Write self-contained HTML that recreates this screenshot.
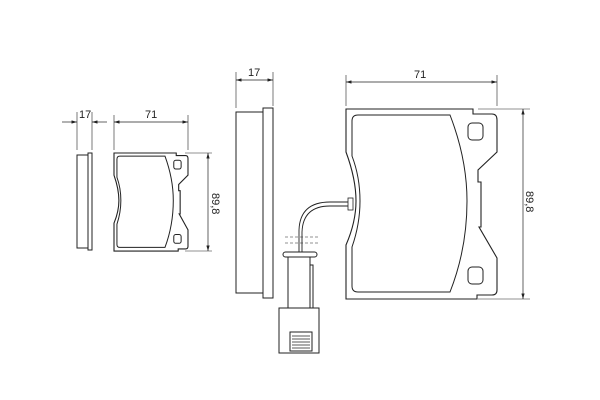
<!DOCTYPE html>
<html><head><style>html,body{margin:0;padding:0;background:#fff}svg{display:block}text{font-family:"Liberation Sans",sans-serif;font-size:11px;fill:#222}</style></head>
<body>
<svg width="600" height="400" viewBox="0 0 600 400" xmlns="http://www.w3.org/2000/svg">
<defs>
<marker id="a" viewBox="0 0 10 6" refX="10" refY="3" markerWidth="8" markerHeight="5" orient="auto-start-reverse"><path d="M0,0 L10,3 L0,6 Z" fill="#222"/></marker>
<g id="pad">
<path vector-effect="non-scaling-stroke" d="M0,0 H127 V5 H146 Q151,5 151,11 V43 L132,61 V73 H135 V118 H133 L151,149 V181 Q151,186 146,186 H131 V190 H0 V136 Q10,113 10,92 Q10,70 0,43 Z" fill="none" stroke="#222" stroke-width="1.1"/>
<path vector-effect="non-scaling-stroke" d="M12,6 H104 Q121,50 121,92 Q121,140 104,183 H12 Q6,183 6,177 V138 Q14,115 14,92 Q14,68 6,47 V12 Q6,6 12,6 Z" fill="none" stroke="#222" stroke-width="1"/>
<rect vector-effect="non-scaling-stroke" x="122" y="14" width="15" height="17" rx="4" fill="none" stroke="#222"/>
<rect vector-effect="non-scaling-stroke" x="122" y="158" width="15" height="17" rx="4" fill="none" stroke="#222"/>
</g>
</defs>
<g stroke="#222" fill="none" stroke-width="1">
<!-- small side view -->
<rect x="77" y="155" width="11" height="93"/>
<rect x="88" y="153" width="4" height="97"/>
<line x1="77" y1="112" x2="77" y2="150" stroke-width="0.6"/>
<line x1="92" y1="112" x2="92" y2="150" stroke-width="0.6"/>
<line x1="62" y1="122" x2="77" y2="122" marker-end="url(#a)" stroke-width="0.7"/>
<line x1="107" y1="122" x2="92" y2="122" marker-end="url(#a)" stroke-width="0.7"/>
<!-- small pad -->
<use href="#pad" transform="translate(114,153) scale(0.49,0.516)"/>
<line x1="114" y1="115" x2="114" y2="150" stroke-width="0.6"/>
<line x1="188" y1="115" x2="188" y2="150" stroke-width="0.6"/>
<line x1="114" y1="122" x2="188" y2="122" marker-start="url(#a)" marker-end="url(#a)" stroke-width="0.7"/>
<line x1="185" y1="153" x2="212" y2="153" stroke-width="0.6"/>
<line x1="185" y1="251" x2="212" y2="251" stroke-width="0.6"/>
<line x1="208" y1="153" x2="208" y2="251" marker-start="url(#a)" marker-end="url(#a)" stroke-width="0.7"/>
<!-- big side view -->
<rect x="236" y="112" width="27" height="181"/>
<rect x="263" y="108" width="10" height="190"/>
<line x1="236" y1="72" x2="236" y2="108" stroke-width="0.6"/>
<line x1="273" y1="72" x2="273" y2="106" stroke-width="0.6"/>
<line x1="236" y1="80" x2="273" y2="80" marker-start="url(#a)" marker-end="url(#a)" stroke-width="0.7"/>
<!-- big pad -->
<use href="#pad" transform="translate(346,109)"/>
<line x1="346" y1="75" x2="346" y2="106" stroke-width="0.6"/>
<line x1="497" y1="75" x2="497" y2="106" stroke-width="0.6"/>
<line x1="346" y1="82" x2="497" y2="82" marker-start="url(#a)" marker-end="url(#a)" stroke-width="0.7"/>
<line x1="478" y1="109" x2="530" y2="109" stroke-width="0.6"/>
<line x1="478" y1="299" x2="530" y2="299" stroke-width="0.6"/>
<line x1="523" y1="109" x2="523" y2="299" marker-start="url(#a)" marker-end="url(#a)" stroke-width="0.7"/>
<!-- sensor -->
<rect x="348" y="198" width="5" height="12" stroke-width="0.8"/>
<path d="M348,202 H330 Q300,202 299,230 V252" stroke-width="0.9"/>
<path d="M348,206 H330 Q303,206 302,232 V252" stroke-width="0.9"/>
<line x1="285" y1="237" x2="318" y2="237" stroke-dasharray="3,2" stroke-width="0.5"/>
<line x1="285" y1="243" x2="318" y2="243" stroke-dasharray="3,2" stroke-width="0.5"/>
<rect x="283" y="252" width="34" height="5" rx="2.5"/>
<path d="M288,257 V308 M310,257 V308 M310,257 V265 H313 V308"/>
<rect x="279" y="308" width="40" height="45"/>
<rect x="290" y="332" width="22" height="19"/>
<path d="M292,336 H310 M292,339 H310 M292,342 H310 M292,345 H310 M292,348 H310" stroke-width="0.7"/>
</g>
<text x="79" y="118">17</text>
<text x="145" y="118">71</text>
<text x="212" y="193" transform="rotate(90 212 193)">89,8</text>
<text x="248" y="76">17</text>
<text x="414" y="78">71</text>
<text x="526" y="191" transform="rotate(90 526 191)">89,8</text>
</svg>
</body></html>
